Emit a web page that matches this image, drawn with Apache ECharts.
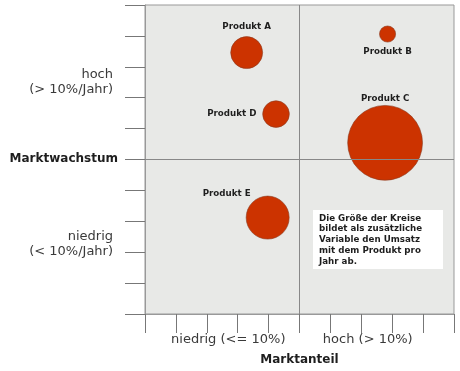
<!DOCTYPE html>
<html>
<head>
<meta charset="utf-8">
<script src="https://cdn.jsdelivr.net/npm/echarts@6/dist/echarts.min.js"></script>
<style>html,body{margin:0;padding:0;background:#fff}#c{width:460px;height:371px}</style>
</head>
<body>
<div id="c"></div>
<script>
const products = ['Produkt A', 'Produkt B', 'Produkt C', 'Produkt D', 'Produkt E'];
const marktanteil = [3.29, 7.85, 7.77, 4.24, 3.97];
const marktwachstum = [8.46, 9.06, 5.54, 6.47, 3.12];
const umsatz = [10.2, 2.6, 56, 7.1, 18.5];
const xLabels = { 2.5: 'niedrig (<= 10%)', 7.5: 'hoch (> 10%)' };
const yLabels = { 2.5: 'niedrig\n(< 10%/Jahr)', 5: 'Marktwachstum', 7.5: 'hoch\n(> 10%/Jahr)' };
const xName = 'Marktanteil';
const note = 'Die Größe der Kreise\nbildet als zusätzliche\nVariable den Umsatz\nmit dem Produkt pro\nJahr ab.';

const FONT = 'DejaVu Sans';
const labelLayout = {
  'Produkt A': { position: 'top', distance: 5 },
  'Produkt B': { position: 'bottom', distance: 5 },
  'Produkt C': { position: 'top', distance: 2 },
  'Produkt D': { position: 'left', distance: 6 },
  'Produkt E': { position: 'top', distance: 0, offset: [-41, 2] }
};

const data = products.map((p, i) => ({
  name: p,
  value: [marktanteil[i], marktwachstum[i], umsatz[i]],
  label: Object.assign({ show: true, formatter: '{b}' }, labelLayout[p])
}));

const chart = echarts.init(document.getElementById('c'), null, { renderer: 'canvas' });
const gridRect = { left: 145, right: 6, top: 5, bottom: 57 };
const LBL = '#3a3a3a';
chart.setOption({
  animation: false,
  textStyle: { fontFamily: FONT },
  grid: [
    Object.assign({ show: true, backgroundColor: '#e8e9e7', borderColor: '#999', borderWidth: 1 }, gridRect),
    Object.assign({ show: false }, gridRect)
  ],
  xAxis: [
    {
      gridIndex: 0, type: 'value', min: 0, max: 10, interval: 1,
      axisLine: { show: true, lineStyle: { color: '#999' } },
      axisTick: { show: true, length: 19, lineStyle: { color: '#777' } },
      axisLabel: { show: false }, splitLine: { show: false }
    },
    {
      gridIndex: 1, type: 'value', min: 0, max: 10, interval: 2.5,
      axisLine: { show: false }, axisTick: { show: false }, splitLine: { show: false },
      axisLabel: {
        show: true, margin: 20, fontSize: 13, fontFamily: FONT, color: LBL,
        formatter: v => {
          if (v === 2.5) return '{l|' + xLabels[v] + '}';
          if (v === 7.5) return '{r|' + xLabels[v] + '}';
          return '';
        },
        rich: {
          l: { fontSize: 13, fontFamily: FONT, color: LBL, padding: [0, 0, 0, 12] },
          r: { fontSize: 13, fontFamily: FONT, color: LBL, padding: [0, 18, 0, 0] }
        }
      },
      name: xName, nameLocation: 'middle', nameGap: 41,
      nameTextStyle: { fontSize: 12, fontWeight: 'bold', color: '#1e1e1e', fontFamily: FONT }
    }
  ],
  yAxis: [
    {
      gridIndex: 0, type: 'value', min: 0, max: 10, interval: 1,
      axisLine: { show: true, lineStyle: { color: '#999' } },
      axisTick: { show: true, length: 20, lineStyle: { color: '#777' } },
      axisLabel: { show: false }, splitLine: { show: false }
    },
    {
      gridIndex: 1, type: 'value', min: 0, max: 10, interval: 2.5,
      axisLine: { show: false }, axisTick: { show: false }, splitLine: { show: false },
      axisLabel: {
        show: true, margin: 27, align: 'right',
        formatter: v => {
          if (v === 2.5) return '{lo|' + yLabels[v] + '}';
          if (v === 5) return '{b|' + yLabels[v] + '}';
          if (v === 7.5) return '{hi|' + yLabels[v] + '}';
          return '';
        },
        rich: {
          hi: { fontSize: 13, fontFamily: FONT, color: LBL, lineHeight: 15, align: 'right', padding: [0, 5, 0, 0] },
          lo: { fontSize: 13, fontFamily: FONT, color: LBL, lineHeight: 15, align: 'right', padding: [17, 5, 0, 0] },
          b: { fontSize: 12, fontFamily: FONT, fontWeight: 'bold', color: '#1e1e1e', align: 'right' }
        }
      }
    }
  ],
  series: [{
    type: 'scatter',
    xAxisIndex: 0, yAxisIndex: 0,
    data: data,
    symbolSize: v => Math.sqrt(v[2]) * 10,
    itemStyle: { color: '#cc3300', borderColor: '#8a3a20', borderWidth: 0.6, opacity: 1 },
    label: { fontSize: 8.7, fontWeight: 'bold', fontFamily: FONT, color: '#1e1e1e' },
    emphasis: { disabled: true },
    markLine: {
      silent: true, symbol: 'none', animation: false,
      label: { show: false },
      lineStyle: { color: '#888', width: 1, type: 'solid' },
      data: [{ xAxis: 5 }, { yAxis: 5 }]
    }
  }],
  graphic: [{
    type: 'group', left: 313, top: 210,
    children: [
      { type: 'rect', shape: { x: 0, y: 0, width: 130, height: 59 }, style: { fill: '#fff' } },
      { type: 'text', x: 6, y: 3, style: { text: note, font: 'bold 8.7px "DejaVu Sans"', fill: '#1e1e1e', lineHeight: 10.8 } }
    ]
  }]
});
</script>
</body>
</html>
